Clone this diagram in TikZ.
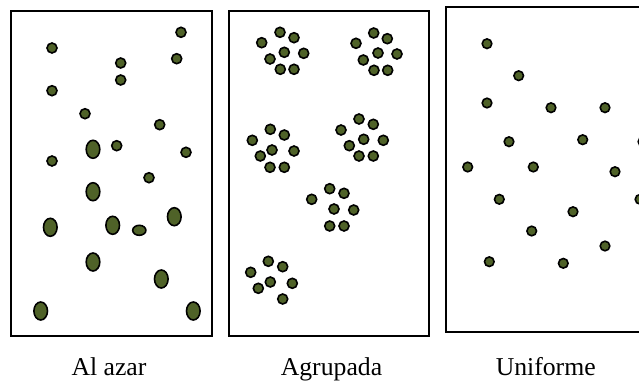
\documentclass[tikz,border=0pt]{standalone}
\usepackage{fontspec}
\setmainfont{Liberation Serif}
\definecolor{dotgreen}{RGB}{79,98,40}
\tikzset{
  panel/.style={draw=black, line width=2pt},
  dot/.style={draw=black, line width=1.6pt, fill=dotgreen},
  lab/.style={anchor=base, inner sep=0pt, font=\fontsize{25.7}{30}\selectfont}
}
\begin{document}
\begin{tikzpicture}[x=1pt,y=-1pt]
\useasboundingbox (0,0) rectangle (639,383);
\clip (0,0) rectangle (639,383);
% panels
\draw[panel] (11,11) rectangle (211.5,335.5);
\draw[panel] (228.5,11) rectangle (429,335.5);
\draw[panel] (446,7) rectangle (660,331.5);
% panel 1: small dots
\foreach \p in {(181,32.3),(52,48),(176.7,58.7),(120.7,63),(120.7,80),(52,90.7),(85,113.7),(159.7,124.7),(116.7,145.7),(186,152.3),(52,161),(149,177.7)}
  \path[dot] \p circle[radius=5pt];
% panel 1: large ellipses
\foreach \p in {(93,149.3),(93,191.7),(174.3,216.7),(50.3,227.3),(112.7,225.3),(93,262),(161.3,279),(40.7,311),(193.3,311)}
  \path[dot] \p ellipse[x radius=6.8pt, y radius=9pt];
\path[dot] (139.3,230.3) ellipse[x radius=6.6pt, y radius=5pt];
% panel 2: clusters
\foreach \p in {
  (261.7,42.7),(280,32.3),(294,37.7),(284.3,52.3),(303.7,53.3),(270,59),(280.3,69.3),(294,69.3),
  (356,43.3),(373.7,33),(387.3,38.7),(378,53),(397,54),(363.3,60),(374,70.3),(387.7,70.3),
  (252.3,140.3),(270.3,129.3),(284.3,135),(272,150),(294,151),(260.3,156),(270,167.3),(284.3,167.3),
  (341,130),(359,119),(373.3,124.3),(363.7,139.3),(383.3,140.3),(349.3,145.7),(359,156),(373.3,156),
  (311.7,199.3),(329.7,188.7),(344,193.3),(334,209),(353.7,210),(329.7,226),(344,226),
  (250.7,272.3),(268.3,261.3),(282.7,266.7),(270.3,282),(292.3,283.3),(258.3,288.3),(282.7,299)}
  \path[dot] \p circle[radius=5pt];
% panel 3: uniform
\foreach \p in {(487,43.7),(518.7,75.7),(487,103),(551,107.7),(605,107.7),(509,141.7),(582.7,139.7),(643,141.7),
  (467.7,167),(533.3,167),(615,171.7),(640,199.3),(499.3,199.3),(573,211.7),(531.7,231),(605,246),(489.3,261.7),(563.3,263.3)}
  \path[dot] \p circle[radius=4.8pt];
% labels
\node[lab] (l1) at (109,375.5) {Al azar};
\node[lab] (l2) at (331.5,375.5) {Agrupada};
\node[lab] (l3) at (545.7,375.3) {Uniforme};
\end{tikzpicture}
\end{document}
